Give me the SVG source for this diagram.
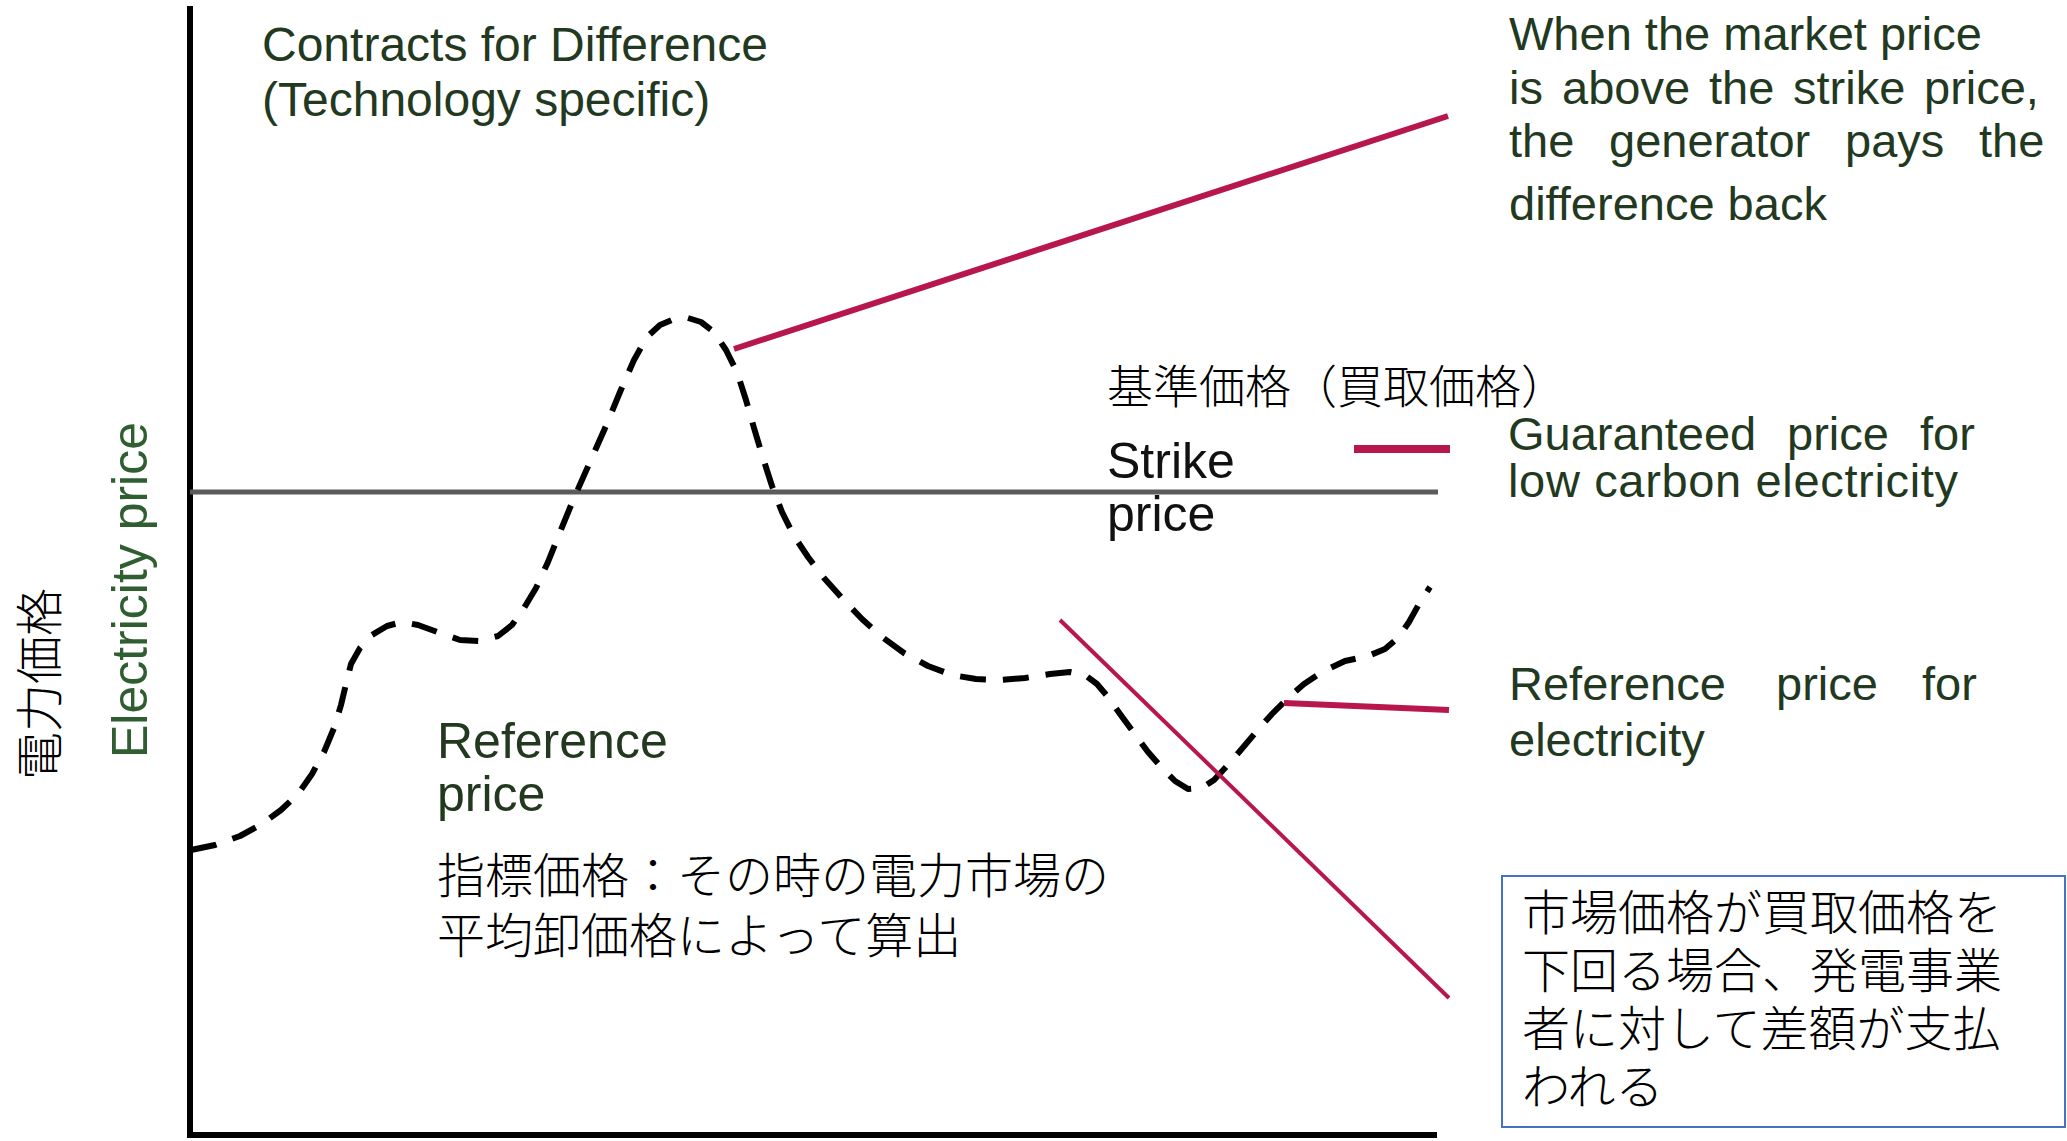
<svg xmlns="http://www.w3.org/2000/svg" width="2067" height="1141" viewBox="0 0 2067 1141">
  <style>
    .en { font-family: "Liberation Sans", Arial, sans-serif; font-size: 47px; fill: #22391f; }
    .big { font-size: 50px; }
    .enk { font-family: "Liberation Sans", Arial, sans-serif; font-size: 50px; fill: #111111; }
    .jp { font-family: "Noto Sans CJK JP", sans-serif; font-size: 48px; font-weight: 300; fill: #000000; }
    .red { stroke: #b8174d; fill: none; }
    .axis { stroke: #000000; stroke-width: 6; fill: none; }
  </style>
  <rect x="0" y="0" width="2067" height="1141" fill="#ffffff"/>

  <g id="axes">
    <line class="axis" x1="190" y1="6" x2="190" y2="1138"/>
    <line class="axis" x1="187" y1="1135" x2="1437" y2="1135"/>
  </g>

  <g id="connectors">
    <line id="strike-line" x1="190" y1="492" x2="1438" y2="492" stroke="#5c5c5c" stroke-width="5"/>
    <path id="reference-curve" fill="none" stroke="#000000" stroke-width="6" stroke-dasharray="26 17" stroke-linejoin="round"
      d="M191,850 L215,845 L240,836 L262,824 L281,810 L298,794 L312,774 L324,752 L334,728 L341,705 L346,684 L351,664 L360,648 L372,635 L387,626 L402,622 L418,625 L440,633 L460,640 L480,641 L498,636 L512,625 L524,608 L536,588 L548,562 L560,532 L574,498 L590,462 L606,426 L620,392 L634,360 L647,337 L660,325 L674,319 L688,318 L701,322 L714,332 L726,350 L737,372 L746,400 L754,428 L763,458 L772,486 L782,512 L794,536 L808,557 L824,578 L842,598 L862,619 L882,637 L904,653 L928,666 L952,675 L976,679 L1000,680 L1025,678 L1050,674 L1070,672 L1085,675 L1097,684 L1108,697 L1120,714 L1134,733 L1148,752 L1162,768 L1175,781 L1188,789 L1202,788 L1214,780 L1226,767 L1240,751 L1256,732 L1272,714 L1288,698 L1304,684 L1322,672 L1345,661 L1368,656 L1385,649 L1398,638 L1409,622 L1419,604 L1430,587"/>
    <line id="pointer-above" class="red" x1="734" y1="349" x2="1448" y2="116" stroke-width="6"/>
    <line id="pointer-strike" class="red" x1="1354" y1="449" x2="1450" y2="449" stroke-width="8"/>
    <line id="pointer-reference" class="red" x1="1284" y1="703" x2="1449" y2="710" stroke-width="6"/>
    <line id="pointer-below" class="red" x1="1060" y1="620" x2="1449" y2="998" stroke-width="4"/>
  </g>

  <g id="title">
    <text class="en" style="font-size:48px" x="262" y="61">Contracts for Difference</text>
    <text class="en" style="font-size:48px" x="262" y="116">(Technology specific)</text>
  </g>

  <g id="y-axis-label">
    <text class="en big" style="fill:#2f5e30" textLength="336" lengthAdjust="spacingAndGlyphs" transform="translate(147,758) rotate(-90)">Electricity price</text>
    <text class="jp" text-anchor="middle" transform="translate(57,684) rotate(-90)">電力価格</text>
  </g>

  <g id="note-above">
    <text class="en" x="1509" y="50">When the market price</text>
    <text class="en" y="104"><tspan x="1509">is</tspan><tspan x="1562">above</tspan><tspan x="1709">the</tspan><tspan x="1793">strike</tspan><tspan x="1924">price,</tspan></text>
    <text class="en" y="157"><tspan x="1509">the</tspan><tspan x="1609">generator</tspan><tspan x="1845">pays</tspan><tspan x="1979">the</tspan></text>
    <text class="en" x="1509" y="220">difference back</text>
  </g>

  <g id="strike-label">
    <text class="jp" style="font-size:46px" x="1107" y="403">基準価格（買取価格）</text>
    <text class="enk" x="1107" y="478">Strike</text>
    <text class="enk" x="1107" y="531">price</text>
  </g>

  <g id="note-guaranteed">
    <text class="en" y="450"><tspan x="1508">Guaranteed</tspan><tspan x="1787">price</tspan><tspan x="1920">for</tspan></text>
    <text class="en" x="1508" y="497" textLength="450" lengthAdjust="spacing">low carbon electricity</text>
  </g>

  <g id="note-reference">
    <text class="en" y="700"><tspan x="1509">Reference</tspan><tspan x="1776">price</tspan><tspan x="1922">for</tspan></text>
    <text class="en" x="1509" y="756">electricity</text>
  </g>

  <g id="reference-label">
    <text class="en big" x="437" y="758">Reference</text>
    <text class="en big" x="437" y="811">price</text>
    <text class="jp" x="437" y="893">指標価格：その時の電力市場の</text>
    <text class="jp" x="437" y="953">平均卸価格によって算出</text>
  </g>

  <g id="box-note">
    <rect x="1502" y="876" width="563" height="251" fill="#ffffff" stroke="#4472c4" stroke-width="2"/>
    <text class="jp" x="1522" y="930">市場価格が買取価格を</text>
    <text class="jp" x="1522" y="988">下回る場合、発電事業</text>
    <text class="jp" x="1522" y="1046">者に対して差額が支払</text>
    <text class="jp" x="1522" y="1104">われる</text>
  </g>
</svg>
